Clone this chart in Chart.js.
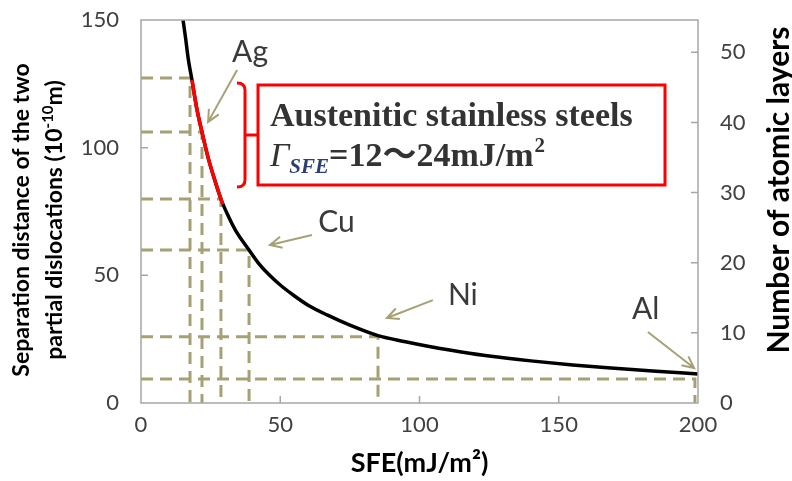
<!DOCTYPE html>
<html>
<head>
<meta charset="utf-8">
<script src="https://cdn.jsdelivr.net/npm/chart.js@4.4.1/dist/chart.umd.min.js"></script>
<style>
  html, body { margin: 0; padding: 0; background: #fff; }
</style>
</head>
<body>
<canvas id="sfe-chart" width="792" height="481"></canvas>
<script>
// values
var sfe = [15.1, 16, 17, 18.3, 20, 21.9, 24, 26, 28.7, 31, 34, 38.8, 42, 46, 50, 55, 60, 67, 75, 85.1, 95, 105, 115, 125, 140, 155, 170, 185, 200];
var separation = [150, 143, 134.5, 126.5, 115.5, 106.1, 96.5, 89, 79.9, 74, 67.5, 59.9, 55, 50.2, 46.2, 42, 38.3, 34.4, 30.5, 26.4, 24, 21.8, 20, 18.4, 16.5, 14.9, 13.6, 12.4, 11.4];
var steelSfe = [18.3, 20, 21.9, 24, 26, 28.7, 29.4];
var steelSeparation = [126.5, 115.5, 106.1, 96.5, 89, 79.9, 77.8];
var guideSfe = [17.6, 21.9, 28.7, 38.8, 85.1, 198.9];
var guideSeparation = [127.3, 106.1, 79.9, 59.9, 25.9, 9.4];
var metals = ['Ag', 'Cu', 'Ni', 'Al'];

var khaki = 'rgb(166, 161, 117)';
var axisGrey = '#a6a6a6';
var textGrey = '#404040';

function pts(xs, ys) {
    return xs.map(function (x, i) { return { x: x, y: ys[i] }; });
}

// lower order is painted on top
var datasets = [
    {
        data: pts(steelSfe, steelSeparation),
        borderColor: '#ff0000',
        borderWidth: 3.5,
        cubicInterpolationMode: 'monotone',
        order: 0
    },
    {
        data: pts(sfe, separation),
        borderColor: '#000',
        borderWidth: 3.5,
        cubicInterpolationMode: 'monotone',
        order: 1
    }
];
guideSfe.forEach(function (gx, i) {
    var gy = guideSeparation[i];
    datasets.push({
        data: [{ x: 0, y: gy }, { x: gx, y: gy }, { x: gx, y: 0 }],
        borderColor: khaki,
        borderWidth: 3,
        borderDash: [12, 7],
        tension: 0,
        order: 2
    });
});

// label / arrow spots in data units (sfe, separation)
var labelSpots = [[32.7, 133.5], [63.6, 67], [110.2, 38.4], [176.3, 32.9]];
var arrows = [
    [[34.5, 130.4], [24.1, 110.1]],
    [[61.4, 65.8], [46.3, 61.9]],
    [[104.8, 40.3], [88.3, 33.3]],
    [[182.0, 27.8], [198.6, 13.7]]
];

function noEdgePadding(s) {
    s.paddingTop = 0;
    s.paddingBottom = 0;
}

var overlay = {
    id: 'overlay',
    afterDraw: function (chart) {
        var ctx = chart.ctx;
        var a = chart.chartArea;
        var sx = chart.scales.x, sy = chart.scales.y, sy2 = chart.scales.y2;
        ctx.save();

        // frame + inside ticks
        ctx.strokeStyle = axisGrey;
        ctx.lineWidth = 1.5;
        ctx.strokeRect(a.left, a.top, a.right - a.left, a.bottom - a.top);
        ctx.beginPath();
        [50, 100, 150].forEach(function (v) {
            var px = sx.getPixelForValue(v);
            ctx.moveTo(px, a.bottom); ctx.lineTo(px, a.bottom - 7);
        });
        [50, 100].forEach(function (v) {
            var py = sy.getPixelForValue(v);
            ctx.moveTo(a.left, py); ctx.lineTo(a.left + 7, py);
        });
        [10, 20, 30, 40, 50].forEach(function (v) {
            var py = sy2.getPixelForValue(v);
            ctx.moveTo(a.right, py); ctx.lineTo(a.right - 7, py);
        });
        ctx.stroke();

        // metal labels
        ctx.fillStyle = '#3a3a3a';
        ctx.font = '30px Lato';
        ctx.textAlign = 'left';
        ctx.textBaseline = 'alphabetic';
        metals.forEach(function (m, i) {
            ctx.fillText(m, sx.getPixelForValue(labelSpots[i][0]), sy.getPixelForValue(labelSpots[i][1]));
        });

        // arrows
        ctx.strokeStyle = khaki;
        ctx.lineWidth = 2;
        arrows.forEach(function (ar) {
            var x1 = sx.getPixelForValue(ar[0][0]), y1 = sy.getPixelForValue(ar[0][1]);
            var x2 = sx.getPixelForValue(ar[1][0]), y2 = sy.getPixelForValue(ar[1][1]);
            var ang = Math.atan2(y2 - y1, x2 - x1);
            ctx.beginPath();
            ctx.moveTo(x1, y1); ctx.lineTo(x2, y2);
            ctx.moveTo(x2 - 13 * Math.cos(ang - 0.45), y2 - 13 * Math.sin(ang - 0.45));
            ctx.lineTo(x2, y2);
            ctx.lineTo(x2 - 13 * Math.cos(ang + 0.45), y2 - 13 * Math.sin(ang + 0.45));
            ctx.stroke();
        });

        // red bracket + box
        ctx.strokeStyle = '#ff0000';
        ctx.lineWidth = 3;
        ctx.strokeRect(258, 85, 407, 100);
        ctx.beginPath();
        ctx.moveTo(237, 83);
        ctx.quadraticCurveTo(245, 83, 245, 90);
        ctx.lineTo(245, 180);
        ctx.quadraticCurveTo(245, 187, 237, 187);
        ctx.moveTo(245, 135);
        ctx.lineTo(258, 135);
        ctx.stroke();

        // box text
        ctx.fillStyle = '#333333';
        ctx.font = 'bold 34px "Liberation Serif"';
        ctx.fillText('Austenitic stainless steels', 270, 126);
        var x = 270;
        ctx.font = 'italic 34px "Liberation Serif"';
        ctx.fillText('\u0393', x, 166);
        x += ctx.measureText('\u0393').width;
        ctx.font = 'bold italic 21px "Liberation Serif"';
        ctx.fillStyle = '#2b3f75';
        ctx.fillText('SFE', x, 173);
        x += ctx.measureText('SFE').width;
        ctx.fillStyle = '#333333';
        ctx.font = 'bold 34px "Liberation Serif", "Noto Sans CJK JP"';
        ctx.fillText('=12\uff5e24mJ/m', x, 166);
        x += ctx.measureText('=12\uff5e24mJ/m').width;
        ctx.font = 'bold 21px "Liberation Serif"';
        ctx.fillText('2', x + 1, 152);

        // y axis titles
        ctx.fillStyle = '#000';
        ctx.textAlign = 'center';
        ctx.textBaseline = 'middle';
        ctx.save();
        ctx.translate(779, 190);
        ctx.rotate(-Math.PI / 2);
        ctx.font = 'bold 30px Lato';
        ctx.fillText('Number of atomic layers', 0, 0);
        ctx.restore();

        ctx.save();
        ctx.translate(22, 220);
        ctx.rotate(-Math.PI / 2);
        ctx.font = 'bold 23px Lato';
        ctx.fillText('Separation distance of the two', 0, 0);
        var p1 = 'partial dislocations (10', p3 = 'm)';
        var w1 = ctx.measureText(p1).width, w3 = ctx.measureText(p3).width;
        ctx.font = 'bold 15px Lato';
        var w2 = ctx.measureText('-10').width;
        var start = -(w1 + w2 + w3) / 2;
        ctx.textAlign = 'left';
        ctx.fillText('-10', start + w1, 26);
        ctx.font = 'bold 23px Lato';
        ctx.fillText(p1, start, 33);
        ctx.fillText(p3, start + w1 + w2, 33);
        ctx.restore();

        ctx.restore();
    }
};

new Chart(document.getElementById('sfe-chart'), {
    type: 'scatter',
    data: { datasets: datasets },
    options: {
        responsive: false,
        animation: false,
        showLine: true,
        elements: { point: { radius: 0 } },
        layout: { padding: { top: 20 } },
        plugins: {
            legend: { display: false },
            tooltip: { enabled: false }
        },
        scales: {
            x: {
                type: 'linear',
                min: 0,
                max: 200,
                ticks: { stepSize: 50, color: textGrey, font: { family: 'Lato', size: 22 }, padding: 9 },
                grid: { display: false, drawTicks: false },
                border: { display: false },
                title: {
                    display: true,
                    text: 'SFE(mJ/m\u00b2)',
                    color: '#000',
                    font: { family: 'Lato', size: 27, weight: 'bold' },
                    padding: { top: 0, bottom: 2 }
                },
                afterFit: function (s) { s.height = 78; }
            },
            y: {
                position: 'left',
                min: 0,
                max: 150,
                ticks: { stepSize: 50, color: textGrey, font: { family: 'Lato', size: 22 }, padding: 22 },
                grid: { display: false, drawTicks: false },
                border: { display: false },
                afterFit: function (s) { s.width = 141; noEdgePadding(s); }
            },
            y2: {
                position: 'right',
                min: 0,
                max: 54.6,
                ticks: { stepSize: 10, includeBounds: false, color: textGrey, font: { family: 'Lato', size: 22 }, padding: 22 },
                grid: { display: false, drawTicks: false },
                border: { display: false },
                afterFit: function (s) { s.width = 94; noEdgePadding(s); }
            }
        }
    },
    plugins: [overlay]
});
</script>
</body>
</html>
